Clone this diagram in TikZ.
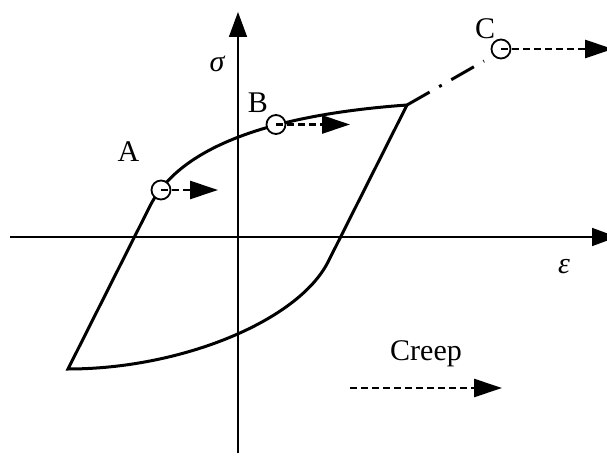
\documentclass[tikz,border=0pt]{standalone}
\usepackage{fontspec}
\setmainfont{Liberation Serif}
\usetikzlibrary{arrows.meta}
\begin{document}
\begin{tikzpicture}[x=1pt,y=-1pt,
  axis/.style={line width=1.7pt,-{Triangle[length=25pt,width=18pt]}},
  curve/.style={line width=3pt,line join=miter},
  creeparrow/.style={line width=2.6pt,dash pattern=on 7pt off 4pt,-{Triangle[length=28pt,width=18pt]}},
  ptmark/.style={circle,draw,line width=1.8pt,fill=white,minimum size=19pt,inner sep=0pt},
  lbl/.style={font=\fontsize{30}{36}\selectfont,anchor=base,inner sep=0pt}]
\useasboundingbox (0,0) rectangle (607,457);
% axes
\coordinate (xs) at (10,237);
\coordinate (xe) at (617,237);
\coordinate (ys) at (238,453);
\coordinate (ye) at (238,12);
\draw[axis] (xs) -- (xe);
\draw[axis] (ys) -- (ye);
% hysteresis loop
\coordinate (P0) at (68,369);
\coordinate (P1) at (150,206);
\coordinate (K) at (407,105);
\coordinate (P2) at (328,262);
\draw[curve] (P0) -- (P1) .. controls (178.7,149.3) and (264.3,115.3) .. (K) -- (P2) .. controls (298,321) and (181,369) .. cycle;
% dash-dot extension
\coordinate (Cend) at (484,61);
\draw[line width=3pt,dash pattern=on 26pt off 11pt on 3pt off 11pt] (K) -- (Cend);
% points
\node[ptmark] (A) at (161,190) {};
\node[ptmark] (B) at (276,124.5) {};
\node[ptmark] (C) at (501,49) {};
\coordinate (Ae) at (218,190);
\coordinate (Be) at (350,124.5);
\coordinate (Ce) at (613,49);
\draw[creeparrow] (A.center) -- (Ae);
\draw[creeparrow] (B.center) -- (Be);
\draw[creeparrow] (C.center) -- (Ce);
% labels
\node[lbl] (la) at (128.5,162) {A};
\node[lbl] (lb) at (258,113) {B};
\node[lbl] (lc) at (485,39) {C};
\node[lbl] (sig) at (217,72) {\itshape σ};
\node[lbl] (eps) at (564,273) {\itshape ε};
\node[lbl] (creep) at (426,360) {Creep};
\coordinate (cs) at (350,388);
\coordinate (ce) at (502,388);
\draw[creeparrow] (cs) -- (ce);
\end{tikzpicture}
\end{document}
